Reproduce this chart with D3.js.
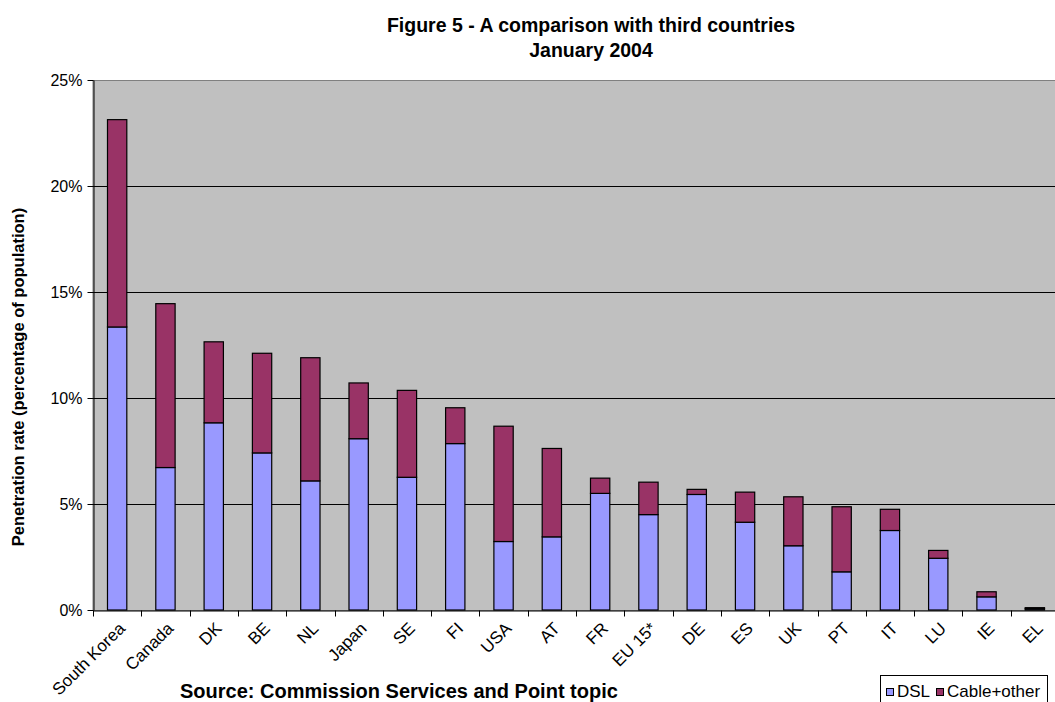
<!DOCTYPE html>
<html>
<head>
<meta charset="utf-8">
<script src="https://cdn.jsdelivr.net/npm/d3@7"></script>
<style>
  html, body { margin: 0; padding: 0; background: #fff; }
  svg { display: block; font-family: Arial, "Liberation Sans", sans-serif; }
</style>
</head>
<body>
<svg id="chart" width="1055" height="702"></svg>
<script>
// Broadband penetration, January 2004 (% of population)
const categories = ["South Korea", "Canada", "DK", "BE", "NL", "Japan", "SE", "FI", "USA", "AT",
                    "FR", "EU 15*", "DE", "ES", "UK", "PT", "IT", "LU", "IE", "EL"];
const dslValues   = [13.35, 6.72, 8.83, 7.41, 6.09, 8.08, 6.26, 7.85, 3.23, 3.45,
                     5.50, 4.50, 5.45, 4.14, 3.03, 1.80, 3.75, 2.44, 0.62, 0.06];
const cableValues = [9.78, 7.73, 3.82, 4.70, 5.81, 2.63, 4.10, 1.69, 5.44, 4.17,
                     0.72, 1.53, 0.24, 1.42, 2.31, 3.07, 1.00, 0.37, 0.24, 0.05];
const seriesNames = ["DSL", "Cable+other"];
const yTicks = [0, 5, 10, 15, 20, 25];

const colors = { "DSL": "#9999FF", "Cable+other": "#993366" };
const FONT = "Arial, 'Liberation Sans', sans-serif";

const svg = d3.select("#chart");
const plot = { left: 93, top: 80, bottom: 610, step: 48.3 };
plot.right = plot.left + plot.step * categories.length;

const x = d3.scaleBand()
  .domain(categories)
  .range([plot.left, plot.right])
  .paddingInner(0.6)
  .paddingOuter(0.3);

const y = d3.scaleLinear().domain([0, 25]).range([plot.bottom, plot.top]);

// Table for the stack layout
const rows = categories.map((c, i) => ({ cat: c, "DSL": dslValues[i], "Cable+other": cableValues[i] }));
const stacked = d3.stack().keys(seriesNames)(rows);

// Title
const title = svg.append("g").attr("font-weight", "bold").attr("font-size", 19.5).attr("text-anchor", "middle");
title.append("text").attr("x", 591).attr("y", 32).text("Figure 5 - A comparison with third countries");
title.append("text").attr("x", 591).attr("y", 57).text("January 2004");

// Plot background
svg.append("rect")
  .attr("x", plot.left).attr("y", plot.top + 0.5)
  .attr("width", plot.right - plot.left).attr("height", plot.bottom - plot.top)
  .attr("fill", "#C0C0C0").attr("stroke", "#808080").attr("stroke-width", 1);

// Gridlines
svg.append("g").selectAll("line")
  .data(yTicks.filter(t => t > 0 && t < 25))
  .join("line")
  .attr("x1", plot.left).attr("x2", plot.right)
  .attr("y1", d => Math.round(y(d)) + 0.5).attr("y2", d => Math.round(y(d)) + 0.5)
  .attr("stroke", "#000").attr("stroke-width", 1);

// Bars
svg.append("g").selectAll("g")
  .data(stacked)
  .join("g")
  .attr("fill", d => colors[d.key])
  .selectAll("rect")
  .data(d => d)
  .join("rect")
  .attr("x", d => x(d.data.cat))
  .attr("width", x.bandwidth())
  .attr("y", d => y(d[1]))
  .attr("height", d => y(d[0]) - y(d[1]))
  .attr("stroke", "#000").attr("stroke-width", 1.2);

// Y axis
const yAxis = svg.append("g")
  .attr("transform", `translate(${plot.left + 0.5},0)`)
  .call(d3.axisLeft(y).tickValues(yTicks).tickFormat(d => d + "%").tickSize(6).tickSizeOuter(0).tickPadding(5));
yAxis.select(".domain").attr("stroke", "#000");
yAxis.selectAll("text").attr("font-size", 16).attr("font-family", FONT).attr("fill", "#000");

// X axis with ticks on category boundaries
const xAxis = svg.append("g")
  .attr("transform", `translate(0,${plot.bottom + 0.5})`)
  .call(d3.axisBottom(x).tickSize(0).tickSizeOuter(0).tickPadding(0));
xAxis.select(".domain").attr("stroke", "#000");
xAxis.selectAll(".tick text")
  .attr("font-size", 17)
  .attr("font-family", FONT)
  .attr("fill", "#000")
  .attr("text-anchor", "end")
  .attr("dy", null)
  .attr("transform", "translate(9,19) rotate(-45)");
xAxis.append("g").selectAll("line")
  .data(d3.range(categories.length + 1))
  .join("line")
  .attr("x1", i => Math.round(plot.left + i * plot.step) + 0.5)
  .attr("x2", i => Math.round(plot.left + i * plot.step) + 0.5)
  .attr("y1", 0).attr("y2", 6)
  .attr("stroke", "#000");

// Y axis title
svg.append("text")
  .attr("transform", "translate(24,377) rotate(-90)")
  .attr("text-anchor", "middle")
  .attr("font-weight", "bold").attr("font-size", 16.5)
  .text("Penetration rate (percentage of population)");

// Source note
svg.append("text")
  .attr("x", 180).attr("y", 698)
  .attr("font-weight", "bold").attr("font-size", 20)
  .text("Source: Commission Services and Point topic");

// Legend
const legend = svg.append("g").attr("transform", "translate(880,675)");
legend.append("rect").attr("x", 0.5).attr("y", 0.5).attr("width", 167).attr("height", 40)
  .attr("fill", "#fff").attr("stroke", "#000");
const items = legend.selectAll("g.item")
  .data(seriesNames)
  .join("g").attr("class", "item")
  .attr("transform", (d, i) => `translate(${i === 0 ? 6 : 56},0)`);
items.append("rect").attr("x", 0.5).attr("y", 13.5).attr("width", 7).attr("height", 7)
  .attr("fill", d => colors[d]).attr("stroke", "#000");
items.append("text").attr("x", 11).attr("y", 22).attr("font-size", 17).text(d => d);
</script>
</body>
</html>
